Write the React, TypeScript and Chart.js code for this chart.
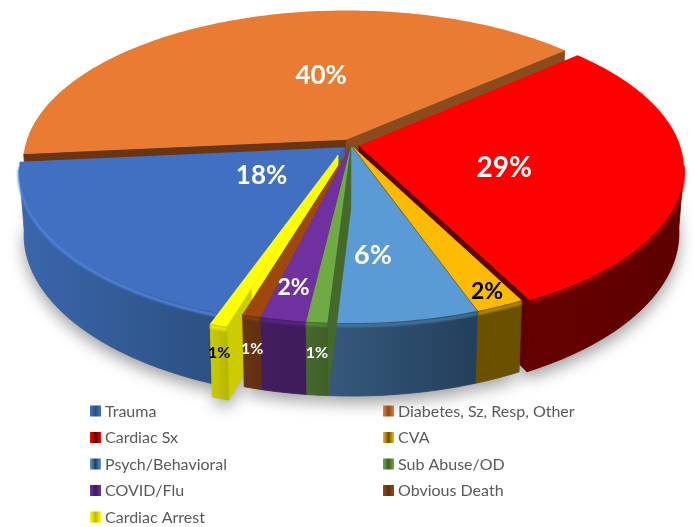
import React, { useEffect, useRef } from "react";
import { Chart, registerables } from "chart.js";

Chart.register(...registerables);

const categories = ["Trauma", "Diabetes, Sz, Resp, Other", "Cardiac Sx", "CVA", "Psych/Behavioral", "Sub Abuse/OD", "COVID/Flu", "Obvious Death", "Cardiac Arrest"];
const shares = [18.1, 40.0, 28.92, 2.1, 6.45, 0.9, 1.95, 0.8, 0.75];
const explode = [8, 12, 8, 2, 2, 2, 2, 2, 25];
const explodeTilt = [0, 0, 0, 0, 0, 0, 0, 0, 13];
const topColors = ["#4170c2", "#ea7b32", "#ff0000", "#fcbb00", "#5b9bd5", "#6fab45", "#7030a0", "#9e480e", "#ffff00"];
const sideLeft = ["#3b66ad", "#6b3512", "#650000", "#6b5000", "#35597c", "#45682b", "#431d60", "#6b3412", "#cccc00"];
const sideRight = ["#2b5080", "#8a4b1e", "#5e0000", "#6b5000", "#243f5c", "#3f5f27", "#3f1b5a", "#603010", "#b8b800"];
const rimColors = ["#5285de", "#c06020", "#a00000", "#b89000", "#47799f", "#5a8a38", "#5a2785", "#84400f", "#f0f000"];
const labelColors = ["#ffffff", "#ffffff", "#ffffff", "#000000", "#ffffff", "#ffffff", "#ffffff", "#ffffff", "#000000"];

// placement of each percentage on its slice: fraction across the slice, fraction of the radius, depth down the wall, font size
const labelSpots = [
  [0.53, 0.31, 0, 26], [0.59, 0.47, 0, 26], [0.57, 0.465, 0, 28], [0.49, 0.92, 0, 23], [0.62, 0.66, 0, 27],
  [0.5, 1.0, 0.42, 16], [0.55, 0.84, 0, 23], [0.5, 1.0, 0.45, 16], [0.5, 1.0, 0.38, 16],
];

const view = { flatten: 0.468, perspective: 0.15, depth: 62, narrow: 0.015 };
const FACE = "Lato, 'Open Sans', sans-serif";

function project(arc: any, angle: number, r: number, z: number) {
  const R = arc.outerRadius;
  const off = arc.options.offset || 0;
  const mid = (arc.startAngle + arc.endAngle) / 2 + ((arc.tilt || 0) * Math.PI) / 180;
  const u = (off * Math.cos(mid)) / R + r * Math.cos(angle);
  const v = (off * Math.sin(mid)) / R + r * Math.sin(angle);
  const w = 1 - view.perspective * v;
  return {
    x: arc.x + ((R * u) / w) * (1 - view.narrow * z),
    y: arc.y + (R * view.flatten * v) / w + (view.depth * z) / w,
  };
}

function rimAngles(arc: any) {
  const n = Math.max(4, Math.ceil(((arc.endAngle - arc.startAngle) * 180) / Math.PI));
  const out = [];
  for (let i = 0; i <= n; i++) out.push(arc.startAngle + ((arc.endAngle - arc.startAngle) * i) / n);
  return out;
}

function rimPoints(arc: any, z: number) {
  return rimAngles(arc).map((t) => project(arc, t, 1, z));
}

function frontPoints(arc: any, z: number) {
  return rimAngles(arc)
    .filter((t) => Math.sin(t) > 0.12)
    .map((t) => project(arc, t, 1, z));
}

function poly(ctx: CanvasRenderingContext2D, pts: { x: number; y: number }[]) {
  ctx.beginPath();
  pts.forEach((p, i) => (i ? ctx.lineTo(p.x, p.y) : ctx.moveTo(p.x, p.y)));
  ctx.closePath();
}

function solid(ctx: CanvasRenderingContext2D, pts: { x: number; y: number }[], color: any) {
  poly(ctx, pts);
  ctx.fillStyle = color;
  ctx.strokeStyle = color;
  ctx.lineWidth = 0.8;
  ctx.fill();
  ctx.stroke();
}

function drawCuts(ctx: CanvasRenderingContext2D, a: any, i: number) {
  const top = rimPoints(a, 0);
  const low = rimPoints(a, 1);
  const apexTop = project(a, 0, 0, 0);
  const apexLow = project(a, 0, 0, 1);
  if (Math.cos(a.startAngle) < 0) solid(ctx, [apexTop, top[0], low[0], apexLow], sideLeft[i]);
  if (Math.cos(a.endAngle) > 0) solid(ctx, [apexTop, top[top.length - 1], low[low.length - 1], apexLow], sideRight[i]);
}

// the gap beside the pulled-out slice reads as more of that slice until close to its rim
function drawPulledCut(ctx: CanvasRenderingContext2D, a: any, i: number) {
  const t = a.startAngle;
  const inner = project(a, t, 0.8, 0);
  solid(ctx, [inner, project(a, t, 1, 0), project(a, t, 1, 1), project(a, t, 0.8, 1)], sideLeft[i]);
  solid(ctx, [project(a, 0, 0, 0), inner, project(a, t, 0.8, 0.5), project(a, 0, 0, 0.5)], topColors[i]);
}

function drawBody(ctx: CanvasRenderingContext2D, a: any, i: number) {
  const top = frontPoints(a, 0);
  const low = frontPoints(a, 1);
  if (top.length > 1) {
    const xs = top.map((p) => p.x);
    const g = ctx.createLinearGradient(Math.min(...xs), 0, Math.max(...xs), 0);
    g.addColorStop(0, sideLeft[i]);
    g.addColorStop(1, sideRight[i]);
    solid(ctx, [...top, ...low.slice().reverse()], g);
  }
  ctx.save();
  if (top.length > 1) {
    ctx.filter = "blur(1px)";
    ctx.strokeStyle = rimColors[i];
    ctx.lineWidth = 3;
    ctx.beginPath();
    frontPoints(a, 0.035).forEach((p, k) => (k ? ctx.lineTo(p.x, p.y) : ctx.moveTo(p.x, p.y)));
    ctx.stroke();
  }
  ctx.filter = "blur(0.4px)";
  ctx.fillStyle = topColors[i];
  poly(ctx, [project(a, 0, 0, 0), ...rimPoints(a, 0)]);
  ctx.fill();
  ctx.restore();
}

const pie3d = {
  id: "pie3d",
  beforeDatasetDraw(chart: any) {
    const ctx: CanvasRenderingContext2D = chart.ctx;
    const arcs: any[] = chart.getDatasetMeta(0).data;
    arcs.forEach((a, i) => (a.tilt = explodeTilt[i]));
    const last = arcs.length - 1;
    const order = arcs
      .map((a, i) => ({ i, v: Math.sin((a.startAngle + a.endAngle) / 2) }))
      .filter((p) => p.i !== last)
      .sort((p, q) => p.v - q.v)
      .map((p) => p.i);

    ctx.save();
    ctx.shadowColor = "rgba(0,0,0,0.38)";
    ctx.shadowBlur = 16;
    ctx.shadowOffsetY = 7;
    ctx.fillStyle = "#888888";
    arcs.forEach((a) => {
      poly(ctx, [project(a, 0, 0, 1), ...rimPoints(a, 1)]);
      ctx.fill();
    });
    ctx.restore();

    const isBack = (i: number) => Math.sin((arcs[i].startAngle + arcs[i].endAngle) / 2) < 0.7;
    order.filter(isBack).forEach((i) => {
      drawCuts(ctx, arcs[i], i);
      drawBody(ctx, arcs[i], i);
    });
    drawPulledCut(ctx, arcs[last], last);
    order.filter((i) => !isBack(i)).forEach((i) => {
      drawCuts(ctx, arcs[i], i);
      drawBody(ctx, arcs[i], i);
    });
    drawBody(ctx, arcs[last], last);
    return false;
  },
  afterDraw(chart: any) {
    const ctx: CanvasRenderingContext2D = chart.ctx;
    const arcs: any[] = chart.getDatasetMeta(0).data;
    const values: number[] = chart.data.datasets[0].data;
    ctx.save();
    ctx.filter = "blur(0.35px)";
    ctx.textAlign = "center";
    ctx.textBaseline = "middle";
    arcs.forEach((a, i) => {
      const [frac, r, z, size] = labelSpots[i];
      const p = project(a, a.startAngle + (a.endAngle - a.startAngle) * frac, r, z);
      ctx.font = `bold ${size}px ${FACE}`;
      ctx.fillStyle = labelColors[i];
      ctx.fillText(`${Math.round(values[i])}%`, p.x, p.y);
    });
    ctx.textAlign = "left";
    ctx.font = `16px ${FACE}`;
    categories.forEach((name, i) => {
      const col = i % 2;
      const row = Math.floor(i / 2);
      const x = col ? 383 : 90;
      const y = 411 + row * 26.5;
      const s = 11;
      const g = ctx.createLinearGradient(x, 0, x + s, 0);
      g.addColorStop(0, topColors[i]);
      g.addColorStop(0.5, sideRight[i]);
      g.addColorStop(1, topColors[i]);
      ctx.fillStyle = g;
      ctx.fillRect(x, y - s / 2, s, s);
      ctx.fillStyle = "#595959";
      ctx.fillText(name, x + 15, y + 0.5);
    });
    ctx.restore();
  },
};

export default function App() {
  const ref = useRef<HTMLCanvasElement>(null);
  useEffect(() => {
    const chart = new Chart(ref.current!, {
      type: "pie",
      data: {
        labels: categories,
        datasets: [{ data: shares, backgroundColor: topColors, offset: explode, borderWidth: 0 }],
      },
      options: {
        animation: false,
        responsive: false,
        rotation: 199.4,
        radius: 321,
        layout: { padding: { left: 8, right: 0, top: 0, bottom: 237 } },
        plugins: { legend: { display: false }, tooltip: { enabled: false } },
      } as any,
      plugins: [pie3d as any],
    });
    return () => chart.destroy();
  }, []);
  return (
    <div style={{ position: "absolute", left: 0, top: 0, width: 694, height: 527, background: "#ffffff" }}>
      <canvas ref={ref} width={694} height={527} style={{ display: "block" }} />
    </div>
  );
}
